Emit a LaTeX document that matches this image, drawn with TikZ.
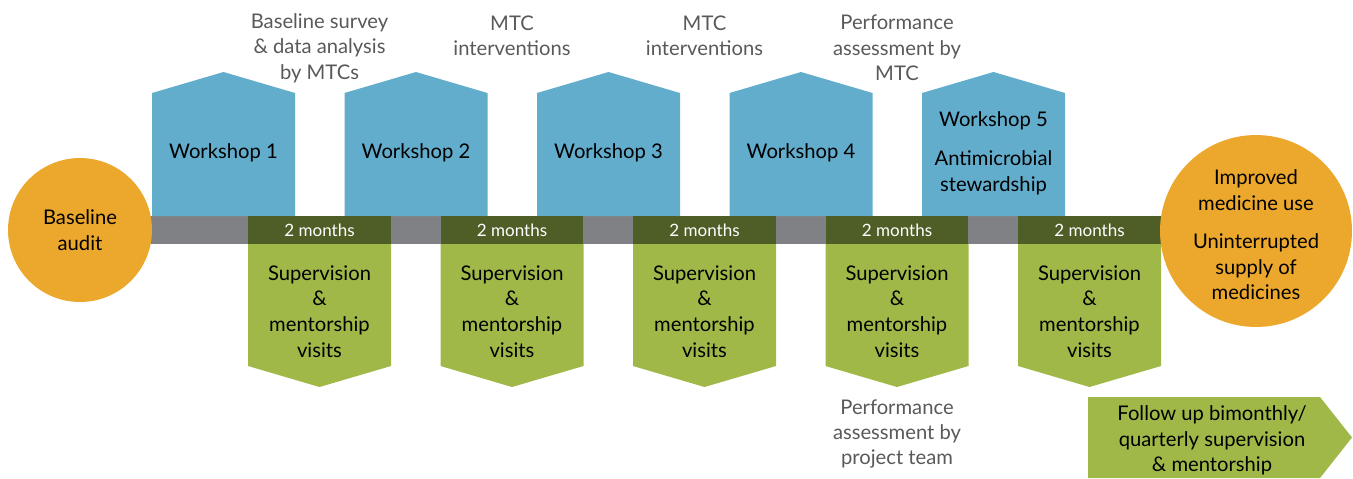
\documentclass[tikz,border=0pt]{standalone}
\usepackage{fontspec}
\setmainfont{Lato}
\usetikzlibrary{positioning}
\definecolor{wsBlue}{HTML}{62ACCC}
\definecolor{visGreen}{HTML}{A0B848}
\definecolor{darkGreen}{HTML}{4F5E26}
\definecolor{barGray}{HTML}{808185}
\definecolor{goalOrange}{HTML}{ECA82D}
\definecolor{noteGray}{HTML}{595959}
\tikzset{
  workshop/.style={fill=wsBlue},
  visit/.style={fill=visGreen},
  boxtext/.style={align=center,inner sep=0pt,text=black,
    font=\fontsize{11.5}{14.6}\selectfont},
  note/.style={align=center,inner sep=0pt,text=noteGray,
    font=\fontsize{11.5}{14.4}\selectfont},
  months/.style={fill=darkGreen,text=white,inner sep=0pt,
    minimum width=2.86cm,minimum height=0.56cm,
    font=\fontsize{9.7}{11}\selectfont},
  goal/.style={circle,fill=goalOrange,align=center,inner sep=0pt,
    font=\fontsize{11.5}{14.6}\selectfont}
}

\begin{document}
\begin{tikzpicture}[x=0.02cm,y=-0.02cm]
  \useasboundingbox (0,0) rectangle (1353,478);

  % time line behind everything
  \fill[barGray] (80,216) rectangle (1256,244);

  % workshops on top of the bar
  \foreach \i/\x in {1/152,2/344.5,3/537,4/729.5,5/922}{
    \fill[workshop] (\x,216) -- (\x,93) -- ++(71.5,-21) -- ++(71.5,21)
      -- (\x+143,216) -- cycle;
  }
  \foreach \i/\x in {1/152,2/344.5,3/537,4/729.5}{
    \node[boxtext] (ws\i) at (\x+71.5,153) {Workshop \i};
  }
  \node[boxtext] (ws5) at (993.5,121) {Workshop 5};
  \node[boxtext] (amr) at (993.5,173) {Antimicrobial\\stewardship};

  % visits between the workshops
  \foreach \i/\x in {1/248,2/440.5,3/633,4/825.5,5/1018}{
    \fill[visit] (\x,244) -- (\x,366) -- ++(71.5,21) -- ++(71.5,-21)
      -- (\x+143,244) -- cycle;
    \node[months] (m\i) at (\x+71.5,230) {2 months};
    \node[boxtext] (v\i) at (\x+71.5,311.5) {Supervision\\\&\\mentorship\\visits};
  }

  % start and end points
  \node[goal, minimum size=2.88cm] (start) at (80,230) {Baseline\\audit};
  \node[goal, minimum size=3.84cm] (goal) at (1256,231) {};
  \node[boxtext] (goaltext) at (1256,235)
    {Improved\\medicine use\\[7pt]Uninterrupted\\supply of\\medicines};

  % notes around the timeline
  \node[note] (n1) at (319.5,48) {Baseline survey\\\& data analysis\\by MTCs};
  \node[note] (n2) at (512,35.5) {MTC\\interventions};
  \node[note] (n3) at (704.5,35.5) {MTC\\interventions};
  \node[note] (n4) at (897,48) {Performance\\assessment by\\MTC};
  \node[note] (n5) at (897,434) {Performance\\assessment by\\project team};

  % follow up arrow
  \fill[visit] (1088,397) -- (1320,397) -- (1352,437.5) -- (1320,478)
    -- (1088,478) -- cycle;
  \node[boxtext] (follow) at (1212,440.5)
    {Follow up bimonthly/\\quarterly supervision\\\& mentorship};
\end{tikzpicture}
\end{document}
